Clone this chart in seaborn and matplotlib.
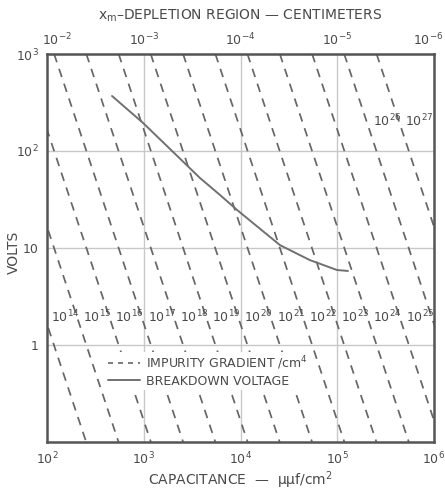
import numpy as np
import pandas as pd
import matplotlib
matplotlib.use("Agg")
import matplotlib.pyplot as plt
import matplotlib.transforms as mtransforms
from matplotlib.lines import Line2D
import seaborn as sns

# ---------------- data ----------------
grad_exponents = [14, 15, 16, 17, 18, 19, 20, 21, 22, 23, 24, 25, 26, 27]
# capacitance (uuf/cm^2) where each impurity-gradient line sits at 1000 V and at 0.1 V
line_cap_top = [11.8, 25.5, 55, 118.5, 255, 550, 1180, 2550, 5500, 11800,
                25500, 55000, 118000, 255000]
line_cap_bottom = [254, 549, 1185, 2553, 5493, 11850, 25400, 54900, 118500,
                   254000, 549000, 1185000, 2540000, 5490000]
line_volts_ends = [1000, 0.1]

# breakdown voltage curve
bd_cap = [470, 982, 2005, 3810, 6140, 9200, 25600, 52200, 99300, 129000]
bd_volts = [369, 195, 98, 52.7, 35.2, 24.7, 10.7, 7.5, 5.93, 5.8]

x_ticks = [1e2, 1e3, 1e4, 1e5, 1e6]
x_tick_labels = ["$10^2$", "$10^3$", "$10^4$", "$10^5$", "$10^6$"]
top_tick_labels = ["$10^{-2}$", "$10^{-3}$", "$10^{-4}$", "$10^{-5}$", "$10^{-6}$"]
y_ticks = [1, 10, 100, 1000]
y_tick_labels = ["1", "10", "$10^2$", "$10^3$"]

# ---------------- build frames ----------------
rows = []
for e, ct, cb in zip(grad_exponents, line_cap_top, line_cap_bottom):
    for c, v in zip([ct, cb], line_volts_ends):
        rows.append({"gradient": e, "cap": c, "volts": v})
grad_df = pd.DataFrame(rows)
bd_df = pd.DataFrame({"cap": bd_cap, "volts": bd_volts})

# ---------------- style ----------------
sns.set_style("white")
plt.rcParams["font.family"] = ["DejaVu Sans"]
plt.rcParams["mathtext.fontset"] = "dejavusans"
ink = "#4a4a4a"
dash_col = "#666666"
grid_col = "#c8c8c8"

fig = plt.figure(figsize=(4.45, 4.91), dpi=100)
ax = fig.add_axes([47 / 445, 1 - 442 / 491, 387 / 445, 388 / 491])
ax.set_xscale("log")
ax.set_yscale("log")
ax.set_xlim(1e2, 1e6)
ax.set_ylim(0.1, 1000)

# grid at major decades
for xv in [1e3, 1e4, 1e5]:
    ax.axvline(xv, color=grid_col, lw=1.0, zorder=0)
for yv in [1, 10, 100]:
    ax.axhline(yv, color=grid_col, lw=1.0, zorder=0)

sns.lineplot(data=grad_df, x="cap", y="volts", units="gradient", estimator=None,
             sort=False, color=dash_col, lw=1.25, dashes=False, ax=ax, legend=False,
             linestyle=(0, (5, 4)))
sns.lineplot(data=bd_df, x="cap", y="volts", estimator=None, sort=False,
             color="#707070", lw=1.4, ax=ax, legend=False)

# gradient labels, just right of each line
for e, ct, cb in zip(grad_exponents, line_cap_top, line_cap_bottom):
    v_lab = 1.73 if e <= 25 else 178
    slope = (np.log10(cb) - np.log10(ct)) / (np.log10(0.1) - np.log10(1000))
    c_line = 10 ** (np.log10(ct) + slope * (np.log10(v_lab) - 3))
    ax.text(c_line * 1.11, v_lab, f"$10^{{{e}}}$", fontsize=9, color=ink,
            ha="left", va="baseline", zorder=3)

ax.set_xticks(x_ticks)
ax.set_xticklabels(x_tick_labels)
ax.set_yticks(y_ticks)
ax.set_yticklabels(y_tick_labels)
ax.minorticks_off()
ax.tick_params(axis="both", length=0, labelsize=9, labelcolor=ink, pad=6)

ax.set_xlabel("CAPACITANCE  \u2014  \u03bc\u03bcf/cm$^2$", fontsize=10, color=ink, labelpad=2)
ax.set_ylabel("VOLTS", fontsize=10, color=ink, va="center")
ax.yaxis.set_label_coords(-0.086, 0.49)

for s in ax.spines.values():
    s.set_color("#555555")
    s.set_linewidth(1.8)

secax = ax.secondary_xaxis("top", functions=(lambda c: 1.0 / c, lambda x: 1.0 / x))
secax.set_xticks([1e-2, 1e-3, 1e-4, 1e-5, 1e-6])
secax.set_xticklabels(top_tick_labels)
secax.minorticks_off()
secax.tick_params(length=0, labelsize=9, labelcolor=ink, pad=4)
secax.set_xlabel("x$_\\mathrm{m}$\u2013DEPLETION REGION \u2014 CENTIMETERS",
                 fontsize=10, color=ink, labelpad=9)

# nudge the end labels of the top axis inward like the reference
fig.canvas.draw()
labs = secax.get_xticklabels()
shift_l = mtransforms.ScaledTranslation(10 / 100, 0, fig.dpi_scale_trans)
shift_r = mtransforms.ScaledTranslation(-6 / 100, 0, fig.dpi_scale_trans)
labs[0].set_transform(labs[0].get_transform() + shift_l)
labs[-1].set_transform(labs[-1].get_transform() + shift_r)

handles = [Line2D([0], [0], color=dash_col, lw=1.2, linestyle=(0, (3, 3))),
           Line2D([0], [0], color="#707070", lw=1.4)]
leg = ax.legend(handles, ["IMPURITY GRADIENT /cm$^4$", "BREAKDOWN VOLTAGE"],
                loc="center left", bbox_to_anchor=(0.15, 0.183), frameon=True,
                fontsize=9, handlelength=2.6, handletextpad=0.5,
                borderpad=0.2, labelspacing=0.25, borderaxespad=0)
leg.get_frame().set_facecolor("white")
leg.get_frame().set_edgecolor("none")
leg.get_frame().set_alpha(1.0)
for t in leg.get_texts():
    t.set_color(ink)

fig.savefig("out.png", dpi=100)
